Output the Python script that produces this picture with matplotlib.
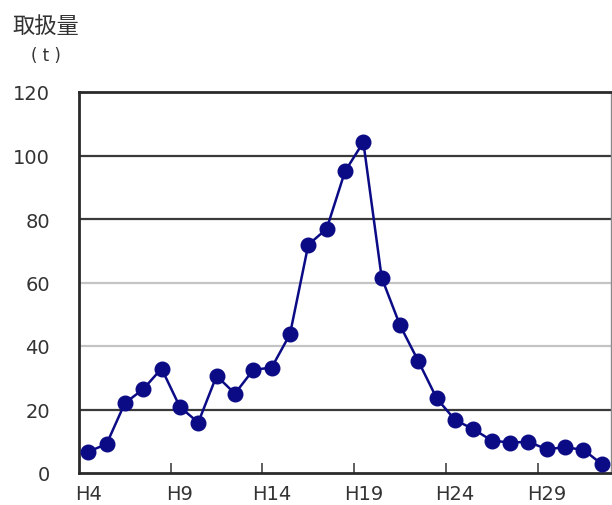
import matplotlib
matplotlib.use("Agg")
import matplotlib.pyplot as plt

plt.rcParams['font.family'] = ['DejaVu Sans', 'Noto Sans CJK JP']

# Annual handling volume (t), Heisei years H4 .. H32
years = [f"H{n}" for n in range(4, 33)]
volume = [6.7, 9.1, 22.0, 26.4, 32.9, 20.8, 15.9, 30.6, 25.0, 32.5,
          33.2, 43.7, 71.9, 76.9, 95.0, 104.2, 61.5, 46.5, 35.2, 23.5,
          16.7, 13.8, 10.2, 9.6, 9.8, 7.5, 8.1, 7.3, 2.8]
y_ticks = [0, 20, 40, 60, 80, 100, 120]
label_years = ["H4", "H9", "H14", "H19", "H24", "H29"]

fig = plt.figure(figsize=(6.12, 5.06), dpi=100)
W, H = 612, 506
left, right, top, bottom = 79, 611, 93, 474
ax = fig.add_axes([left / W, (H - bottom) / H, (right - left) / W, (bottom - top) / H])

x = list(range(len(years)))
ax.set_xlim(-0.5, len(years) - 0.5)
ax.set_ylim(0, 120)

# horizontal gridlines
dark = {20, 80, 100}
for v in y_ticks[1:-1]:
    if v in dark:
        ax.axhline(v, color='#3a3a3a', lw=1.6, zorder=1)
    else:
        ax.axhline(v, color='#c4c4c4', lw=1.6, zorder=1)

ax.plot(x, volume, color='#0b0b86', lw=1.8, marker='o', markersize=10.5,
        markerfacecolor='#0b0b86', markeredgecolor='#0b0b86', zorder=3, clip_on=False)

# spines
for s in ['left', 'bottom', 'top']:
    ax.spines[s].set_color('#2a2a2a')
    ax.spines[s].set_linewidth(2.0)
ax.spines['right'].set_color('#8a8a8a')
ax.spines['right'].set_linewidth(1.0)

ax.set_yticks(y_ticks)
ax.set_yticklabels([str(v) for v in y_ticks], fontsize=14, color='#333333')
ax.tick_params(axis='y', length=0, pad=21)

# category labels centred on points, tick marks on category boundaries
idx = [years.index(l) for l in label_years]
ax.set_xticks(idx)
ax.set_xticklabels(label_years, fontsize=14, color='#333333')
ax.tick_params(axis='x', which='major', length=0, pad=8)
ax.set_xticks([i - 0.5 for i in idx[1:]], minor=True)
ax.tick_params(axis='x', which='minor', direction='in', length=7, width=1.2,
               color='#444444')

fig.text(12 / W, 1 - 26 / H, "取扱量", fontsize=16,
         family=['Noto Sans CJK JP', 'DejaVu Sans'], color='#333333', va='center')
fig.text(46 / W, 1 - 56 / H, "( t )", fontsize=12, color='#333333', va='center', ha='center')

fig.savefig("out.png", dpi=100)
